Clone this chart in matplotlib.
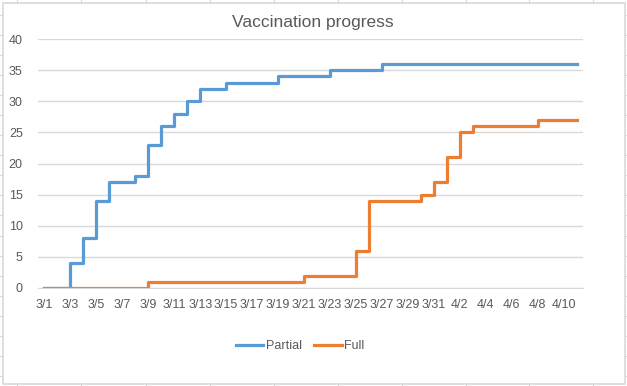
import numpy as np
import pandas as pd
import matplotlib
matplotlib.use('Agg')
import matplotlib.pyplot as plt
from matplotlib.lines import Line2D

# Daily counts, 3/1 to 4/11
dates = pd.date_range('2021-03-01', '2021-04-11', freq='D')
partial = [0, 0, 4, 8, 14, 17, 17, 18, 23, 26, 28, 30, 32, 32, 33, 33, 33, 33,
           34, 34, 34, 34, 35, 35, 35, 35, 36, 36, 36, 36, 36, 36, 36, 36, 36,
           36, 36, 36, 36, 36, 36, 36]
full = [0, 0, 0, 0, 0, 0, 0, 0, 1, 1, 1, 1, 1, 1, 1, 1, 1, 1, 1, 1, 2, 2, 2,
        2, 6, 14, 14, 14, 14, 15, 17, 21, 25, 26, 26, 26, 26, 26, 27, 27, 27,
        27]

W, H = 627, 386
GRID = '#D9D9D9'
TXT = '#595959'

plt.rcParams['font.family'] = ['Liberation Sans', 'DejaVu Sans']

fig = plt.figure(figsize=(W / 100, H / 100), dpi=100)


def px(x, y):
    return x / W, 1 - y / H


# spreadsheet cells behind the chart + chart border
for cx in [17, 81, 146, 210, 274, 338, 402, 466, 529, 593]:
    fig.add_artist(Line2D(*zip(px(cx, 0), px(cx, 3)), color=GRID, lw=0.8))
    fig.add_artist(Line2D(*zip(px(cx, 384), px(cx, 386)), color=GRID, lw=0.8))
for ry in np.arange(15, 386, 20.05):
    fig.add_artist(Line2D(*zip(px(0, ry), px(3, ry)), color=GRID, lw=0.8))
    fig.add_artist(Line2D(*zip(px(625, ry), px(627, ry)), color=GRID, lw=0.8))
x0, y0 = px(3, 384)
x1, y1 = px(625, 3)
fig.add_artist(plt.Rectangle((x0, y0), x1 - x0, y1 - y0, fill=False,
                             edgecolor=GRID, lw=1.2, transform=fig.transFigure))

l, b = px(38, 288)
r, t = px(583, 39)
ax = fig.add_axes([l, b, r - l, t - b])

ax.plot(dates, partial, drawstyle='steps-post', color='#5B9BD5', lw=2.3,
        label='Partial')
ax.plot(dates, full, drawstyle='steps-post', color='#ED7D31', lw=2.3,
        label='Full')

ax.set_ylim(0, 40)
ax.set_yticks(range(0, 41, 5))
ax.set_xlim(dates[0] - pd.Timedelta(hours=12), dates[-1] + pd.Timedelta(hours=12))
ax.set_xticks(dates[::2])
ax.set_xticklabels([f'{d.month}/{d.day}' for d in dates[::2]])

ax.grid(axis='y', color=GRID, lw=1)
ax.set_axisbelow(True)
for s in ['top', 'right', 'left']:
    ax.spines[s].set_visible(False)
ax.spines['bottom'].set_color(GRID)
ax.tick_params(length=0, colors=TXT, labelsize=9)
ax.tick_params(axis='y', pad=11)
ax.tick_params(axis='x', pad=8)

fig.text(*px(313, 23), 'Vaccination progress', ha='center', va='center',
         fontsize=12.5, color=TXT)

leg = fig.legend(loc='center', bbox_to_anchor=px(300, 346), ncol=2,
                 frameon=False, fontsize=9, handlelength=2.2,
                 handletextpad=0.2, columnspacing=1.0)
for txt in leg.get_texts():
    txt.set_color(TXT)

fig.savefig('out.png', dpi=100)
